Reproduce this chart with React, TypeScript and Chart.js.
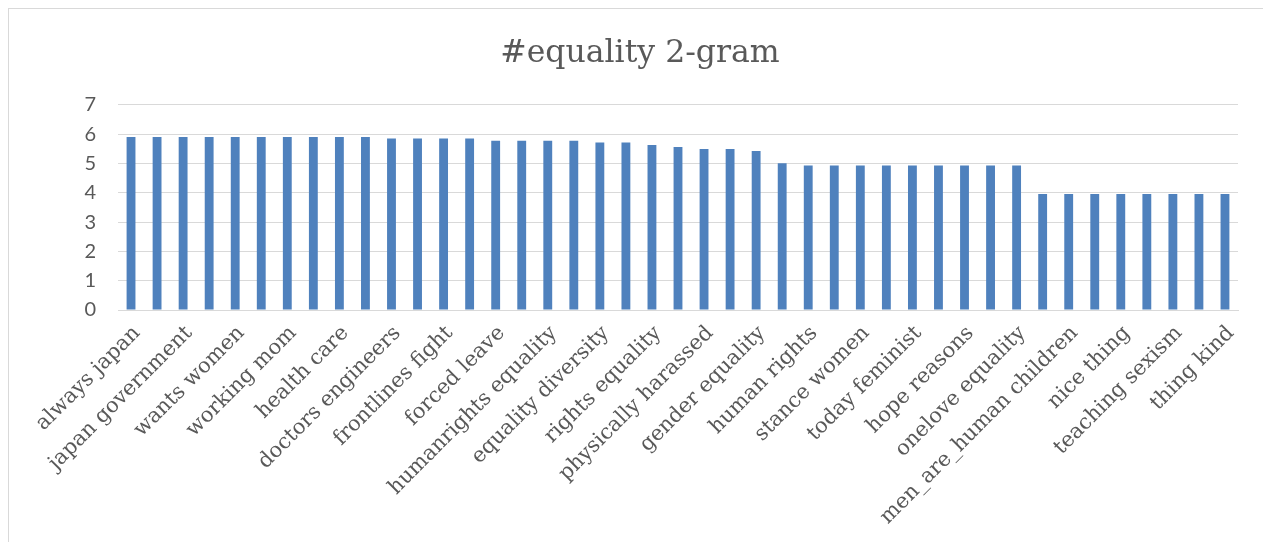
import React, { useEffect, useRef } from "react";
import { Chart, registerables } from "chart.js";

Chart.register(...registerables);

// 2-gram categories; only every other one carries a printed label
const categories: string[] = [
  "always japan", "", "japan government", "", "wants women", "", "working mom", "",
  "health care", "", "doctors engineers", "", "frontlines fight", "", "forced leave", "",
  "humanrights equality", "", "equality diversity", "", "rights equality", "",
  "physically harassed", "", "gender equality", "", "human rights", "", "stance women", "",
  "today feminist", "", "hope reasons", "", "onelove equality", "",
  "men_are_human children", "", "nice thing", "", "teaching sexism", "", "thing kind",
];

// score per 2-gram
const scores: number[] = [
  5.9, 5.9, 5.9, 5.9, 5.9, 5.9, 5.9, 5.9, 5.9, 5.9,
  5.85, 5.85, 5.85, 5.85,
  5.77, 5.77, 5.77, 5.77,
  5.71, 5.71,
  5.63, 5.56, 5.49, 5.49, 5.42, 5.01,
  4.93, 4.93, 4.93, 4.93, 4.93, 4.93, 4.93, 4.93, 4.93,
  3.96, 3.96, 3.96, 3.96, 3.96, 3.96, 3.96, 3.96,
];

const yTicks: number[] = [0, 1, 2, 3, 4, 5, 6, 7];

const chartTitle = "#equality 2-gram";

export default function App() {
  const canvasRef = useRef<HTMLCanvasElement | null>(null);

  useEffect(() => {
    document.documentElement.style.overflow = "hidden";
    const ctx = canvasRef.current;
    if (!ctx) return;
    const chart = new Chart(ctx, {
      type: "bar",
      data: {
        labels: categories,
        datasets: [
          {
            data: scores,
            backgroundColor: "#4f81bd",
            borderWidth: 0,
            barPercentage: 0.34,
            categoryPercentage: 1,
            yAxisID: "y",
          },
        ],
      },
      options: {
        responsive: false,
        animation: false,
        events: [],
        layout: { padding: 0 },
        plugins: {
          legend: { display: false },
          tooltip: { enabled: false },
          title: {
            display: true,
            text: chartTitle,
            color: "#595959",
            font: { family: "DejaVu Serif", size: 31.5, weight: "normal" },
            padding: { top: 26, bottom: 32 },
          },
        },
        scales: {
          x: {
            grid: { display: false, drawTicks: false },
            border: { display: true, color: "#d9d9d9", width: 1 },
            ticks: {
              autoSkip: false,
              maxRotation: 45,
              minRotation: 45,
              padding: 11,
              labelOffset: 6,
              color: "#595959",
              font: { family: "DejaVu Serif", size: 21 },
            },
            afterFit: (scale: any) => {
              scale.height = 232;
            },
          },
          y: {
            min: 0,
            max: 7,
            afterBuildTicks: (scale: any) => {
              scale.ticks = yTicks.map((v) => ({ value: v }));
            },
            grid: { color: "#d9d9d9", lineWidth: 1, drawTicks: false },
            border: { display: false },
            ticks: {
              padding: 22,
              color: "#595959",
              font: { family: "Lato", size: 20 },
            },
            afterFit: (scale: any) => {
              scale.width = 109;
            },
          },
          // empty right-hand margin beside the plot
          yMargin: {
            position: "right",
            min: 0,
            max: 7,
            grid: { display: false, drawTicks: false },
            border: { display: false },
            ticks: { display: false },
            afterFit: (scale: any) => {
              scale.width = 33;
            },
          },
        },
      },
    });
    return () => chart.destroy();
  }, []);

  return (
    <div
      style={{
        width: 1262,
        height: 533,
        border: "1px solid #d9d9d9",
        background: "#ffffff",
      }}
    >
      <canvas ref={canvasRef} width={1262} height={533} style={{ display: "block" }} />
    </div>
  );
}
